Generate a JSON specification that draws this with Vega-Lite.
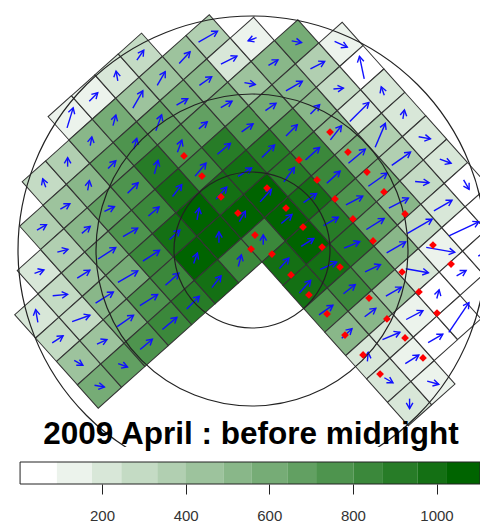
{"$schema":"https://vega.github.io/schema/vega-lite/v6.json","padding":0,"spacing":15,"bounds":"flush","background":"white","config":{"view":{"stroke":null}},
"datasets":{"cells":[
{"a":-2,"b":-8,"count":135,"dir":17,"speed":21},{"a":-1,"b":-8,"count":135,"dir":45,"speed":12},{"a":0,"b":-8,"count":210,"dir":-10,"speed":10},{"a":1,"b":-8,"count":290,"dir":35,"speed":12},
{"a":-4,"b":-7,"count":290,"dir":-20,"speed":9},{"a":-3,"b":-7,"count":365,"dir":0,"speed":9},{"a":-2,"b":-7,"count":525,"dir":10,"speed":9},{"a":-1,"b":-7,"count":600,"dir":15,"speed":11},{"a":0,"b":-7,"count":445,"dir":30,"speed":20},{"a":1,"b":-7,"count":445,"dir":30,"speed":16},{"a":2,"b":-7,"count":445,"dir":43,"speed":16},{"a":3,"b":-7,"count":365,"dir":60,"speed":22},
{"a":-5,"b":-6,"count":365,"dir":60,"speed":11},{"a":-4,"b":-6,"count":445,"dir":60,"speed":11},{"a":-3,"b":-6,"count":525,"dir":10,"speed":10},{"a":-2,"b":-6,"count":680,"dir":45,"speed":11},{"a":-1,"b":-6,"count":755,"dir":15,"speed":11},{"a":0,"b":-6,"count":680,"dir":20,"speed":17},{"a":1,"b":-6,"count":600,"dir":60,"speed":13},{"a":2,"b":-6,"count":525,"dir":55,"speed":15},{"a":3,"b":-6,"count":210,"dir":63,"speed":18},{"a":4,"b":-6,"count":135,"dir":250,"speed":9},
{"a":-6,"b":-5,"count":210,"dir":70,"speed":10},{"a":-5,"b":-5,"count":365,"dir":75,"speed":11},{"a":-4,"b":-5,"count":525,"dir":50,"speed":11},{"a":-3,"b":-5,"count":680,"dir":65,"speed":11},{"a":-2,"b":-5,"count":755,"dir":45,"speed":15},{"a":-1,"b":-5,"count":910,"dir":15,"speed":14},{"a":0,"b":-5,"count":755,"dir":20,"speed":13},{"a":1,"b":-5,"count":680,"dir":50,"speed":11},{"a":2,"b":-5,"count":600,"dir":60,"speed":13},{"a":3,"b":-5,"count":445,"dir":100,"speed":11},{"a":4,"b":-5,"count":525,"dir":60,"speed":11},{"a":5,"b":-5,"count":600,"dir":100,"speed":10},
{"a":-7,"b":-4,"count":210,"dir":-10,"speed":13},{"a":-6,"b":-4,"count":290,"dir":85,"speed":15},{"a":-5,"b":-4,"count":445,"dir":58,"speed":15},{"a":-4,"b":-4,"count":600,"dir":57,"speed":21},{"a":-3,"b":-4,"count":755,"dir":60,"speed":17},{"a":-2,"b":-4,"count":835,"dir":50,"speed":14},{"a":-1,"b":-4,"count":990,"dir":38,"speed":15},{"a":0,"b":-4,"count":835,"dir":40,"speed":17},{"a":1,"b":-4,"count":910,"dir":50,"speed":17},{"a":2,"b":-4,"count":755,"dir":55,"speed":14},{"a":3,"b":-4,"count":600,"dir":55,"speed":13},{"a":4,"b":-4,"count":525,"dir":60,"speed":19},{"a":5,"b":-4,"count":365,"dir":63,"speed":16},{"a":6,"b":-4,"count":135,"dir":115,"speed":14},
{"a":-7,"b":-3,"count":290,"dir":57,"speed":13},{"a":-6,"b":-3,"count":290,"dir":70,"speed":19},{"a":-5,"b":-3,"count":525,"dir":58,"speed":21},{"a":-4,"b":-3,"count":600,"dir":60,"speed":23},{"a":-3,"b":-3,"count":835,"dir":57,"speed":20},{"a":-2,"b":-3,"count":990,"dir":48,"speed":14},{"a":-1,"b":-3,"count":1060,"dir":10,"speed":12},{"a":0,"b":-3,"count":990,"dir":42,"speed":16},{"a":1,"b":-3,"count":990,"dir":58,"speed":16},{"a":2,"b":-3,"count":910,"dir":45,"speed":18},{"a":3,"b":-3,"count":755,"dir":45,"speed":16},{"a":4,"b":-3,"count":525,"dir":45,"speed":13},{"a":5,"b":-3,"count":290,"dir":85,"speed":10},{"a":6,"b":-3,"count":50,"dir":-12,"speed":23},
{"a":-7,"b":-2,"count":445,"dir":120,"speed":10},{"a":-6,"b":-2,"count":445,"dir":65,"speed":11},{"a":-5,"b":-2,"count":600,"dir":55,"speed":20},{"a":-4,"b":-2,"count":755,"dir":58,"speed":21},{"a":-3,"b":-2,"count":835,"dir":48,"speed":18},{"a":-2,"b":-2,"count":1060,"dir":20,"speed":11},{"a":-1,"b":-2,"count":1060,"dir":0,"speed":11},{"a":0,"b":-2,"count":1060,"dir":30,"speed":12},{"a":1,"b":-2,"count":1060,"dir":42,"speed":17},{"a":2,"b":-2,"count":910,"dir":36,"speed":18},{"a":3,"b":-2,"count":835,"dir":48,"speed":19},{"a":4,"b":-2,"count":525,"dir":38,"speed":18},{"a":5,"b":-2,"count":210,"dir":45,"speed":27},{"a":6,"b":-2,"count":210,"dir":-20,"speed":9},
{"a":-7,"b":-1,"count":600,"dir":100,"speed":10},{"a":-6,"b":-1,"count":680,"dir":110,"speed":10},{"a":-5,"b":-1,"count":755,"dir":50,"speed":16},{"a":-4,"b":-1,"count":835,"dir":50,"speed":19},{"a":-3,"b":-1,"count":910,"dir":45,"speed":18},{"a":-2,"b":-1,"count":990,"dir":38,"speed":15},{"a":-1,"b":-1,"count":835,"dir":15,"speed":12},{"a":0,"b":-1,"count":835,"dir":0,"speed":10},{"a":1,"b":-1,"count":1060,"dir":50,"speed":14},{"a":2,"b":-1,"count":990,"dir":55,"speed":16},{"a":3,"b":-1,"count":835,"dir":48,"speed":18},{"a":4,"b":-1,"count":600,"dir":50,"speed":22},{"a":5,"b":-1,"count":365,"dir":23,"speed":26},{"a":6,"b":-1,"count":210,"dir":10,"speed":9},
{"a":0,"b":0,"count":990,"dir":42,"speed":14},{"a":1,"b":0,"count":1060,"dir":58,"speed":15},{"a":2,"b":0,"count":910,"dir":60,"speed":17},{"a":3,"b":0,"count":755,"dir":62,"speed":19},{"a":4,"b":0,"count":600,"dir":55,"speed":23},{"a":5,"b":0,"count":365,"dir":55,"speed":23},{"a":6,"b":0,"count":210,"dir":100,"speed":12},
{"a":0,"b":1,"count":990,"dir":42,"speed":17},{"a":1,"b":1,"count":990,"dir":66,"speed":18},{"a":2,"b":1,"count":910,"dir":67,"speed":17},{"a":3,"b":1,"count":680,"dir":58,"speed":21},{"a":4,"b":1,"count":525,"dir":63,"speed":22},{"a":5,"b":1,"count":290,"dir":95,"speed":14},{"a":6,"b":1,"count":210,"dir":110,"speed":12},
{"a":0,"b":2,"count":755,"dir":55,"speed":17},{"a":1,"b":2,"count":835,"dir":52,"speed":15},{"a":2,"b":2,"count":755,"dir":65,"speed":17},{"a":3,"b":2,"count":525,"dir":60,"speed":22},{"a":4,"b":2,"count":290,"dir":60,"speed":29},{"a":5,"b":2,"count":210,"dir":60,"speed":21},{"a":6,"b":2,"count":50,"dir":150,"speed":11},
{"a":0,"b":3,"count":525,"dir":47,"speed":14},{"a":1,"b":3,"count":525,"dir":53,"speed":14},{"a":2,"b":3,"count":445,"dir":60,"speed":18},{"a":3,"b":3,"count":210,"dir":100,"speed":23},{"a":4,"b":3,"count":135,"dir":100,"speed":29},{"a":5,"b":3,"count":50,"dir":65,"speed":33},{"a":6,"b":3,"count":50,"dir":60,"speed":15},
{"a":0,"b":4,"count":210,"dir":5,"speed":9},{"a":1,"b":4,"count":210,"dir":67,"speed":19},{"a":2,"b":4,"count":135,"dir":62,"speed":19},{"a":3,"b":4,"count":50,"dir":15,"speed":9},{"a":4,"b":4,"count":50,"dir":60,"speed":11},{"a":5,"b":4,"count":50,"dir":60,"speed":15},
{"a":0,"b":5,"count":210,"dir":120,"speed":10},{"a":1,"b":5,"count":135,"dir":58,"speed":16},{"a":2,"b":5,"count":50,"dir":60,"speed":17},{"a":3,"b":5,"count":50,"dir":34,"speed":36},
{"a":0,"b":6,"count":210,"dir":180,"speed":10},{"a":1,"b":6,"count":135,"dir":105,"speed":12}
],
"sites":[{"east":-43.6,"north":60.3},{"east":-32.1,"north":47.4},{"east":-19.9,"north":34},{"east":50,"north":75.6},{"east":61.5,"north":62.8},{"east":73.7,"north":50},{"east":84.6,"north":37.2},{"east":30.1,"north":57.7},{"east":41.7,"north":44.9},{"east":53.2,"north":32.7},{"east":9.6,"north":39.7},{"east":21.8,"north":26.9},{"east":32.7,"north":14.7},{"east":1.9,"north":9.6},{"east":-0.6,"north":0.6},{"east":12.8,"north":-2.6},{"east":25,"north":-16},{"east":36.5,"north":-28.8},{"east":48.1,"north":-41},{"east":59.6,"north":-54.5},{"east":71.2,"north":-67.3},{"east":82.1,"north":-79.5},{"east":44.9,"north":1.9},{"east":56.4,"north":-10.9},{"east":64.7,"north":19.9},{"east":77.6,"north":5.8},{"east":96.2,"north":-14.1},{"east":75,"north":-30.8},{"east":86.5,"north":-44.2},{"east":98.1,"north":-56.4},{"east":109.6,"north":-69.2},{"east":107,"north":-26.9},{"east":118.6,"north":-40.4},{"east":98.1,"north":23.1},{"east":116,"north":3.2},{"east":127.6,"north":-9},{"east":-9,"north":23.7}],
"bins":[{"from":4,"to":92,"count":50},{"from":92,"to":176,"count":135},{"from":176,"to":246,"count":210},{"from":246,"to":332,"count":290},{"from":332,"to":399,"count":365},{"from":399,"to":490,"count":445},{"from":490,"to":557,"count":525},{"from":557,"to":643,"count":600},{"from":643,"to":712,"count":680},{"from":712,"to":801,"count":755},{"from":801,"to":870,"count":835},{"from":870,"to":954,"count":910},{"from":954,"to":1025,"count":990},{"from":1025,"to":1104,"count":1060}]},
"vconcat":[
{"width":480,"height":447,"data":{"name":"cells"},
"transform":[{"calculate":"6.41+15*(datum.a+0.5)+13.4*(datum.b+0.5)","as":"east"},{"calculate":"-7.69+13.4*(datum.a+0.5)-15*(datum.b+0.5)","as":"north"},{"calculate":"datum.east-0.32*datum.speed*sin(datum.dir*PI/180)","as":"tailE"},{"calculate":"datum.north-0.32*datum.speed*cos(datum.dir*PI/180)","as":"tailN"},{"calculate":"datum.east+0.32*datum.speed*sin(datum.dir*PI/180)","as":"tipE"},{"calculate":"datum.north+0.32*datum.speed*cos(datum.dir*PI/180)","as":"tipN"}],
"encoding":{"x":{"field":"east","type":"quantitative","axis":null,"scale":{"domain":[-161.54,146.15],"nice":false,"zero":false}},"y":{"field":"north","type":"quantitative","axis":null,"scale":{"domain":[-126.28,160.26],"nice":false,"zero":false}}},
"layer":[
{"mark":{"type":"square","size":974,"angle":48.2,"stroke":"#333333","strokeWidth":1,"opacity":1,"clip":true},"encoding":{"fill":{"field":"count","type":"quantitative","legend":null,"scale":{"type":"threshold","domain":[92,176,246,332,399,490,557,643,712,801,870,954,1025],"range":["#ffffff","#ecf3ec","#d8e7d8","#c4dbc4","#b1cfb1","#9dc39d","#89b789","#76ac76","#62a062","#4e944e","#3b883b","#277c27","#147014","#006400"]}}}},
{"mark":{"type":"rule","color":"#1010ff","strokeWidth":1.4,"clip":true},"encoding":{"x":{"field":"tailE","type":"quantitative","axis":null,"scale":{"domain":[-161.54,146.15],"nice":false,"zero":false}},"y":{"field":"tailN","type":"quantitative","axis":null,"scale":{"domain":[-126.28,160.26],"nice":false,"zero":false}},"x2":{"field":"tipE"},"y2":{"field":"tipN"}}},
{"mark":{"type":"point","shape":"M-0.55,0.95L0,0L0.55,0.95","filled":false,"size":144,"stroke":"#1010ff","strokeWidth":1.4,"opacity":1,"clip":true},"encoding":{"x":{"field":"tipE","type":"quantitative","axis":null,"scale":{"domain":[-161.54,146.15],"nice":false,"zero":false}},"y":{"field":"tipN","type":"quantitative","axis":null,"scale":{"domain":[-126.28,160.26],"nice":false,"zero":false}},"angle":{"field":"dir","type":"quantitative","scale":null}}},
{"data":{"values":[{"east":0,"north":0,"range_km":50},{"east":0,"north":0,"range_km":100},{"east":0,"north":0,"range_km":150}]},"mark":{"type":"point","shape":"circle","filled":false,"stroke":"#222222","strokeWidth":1.2,"opacity":1,"clip":true},"encoding":{"size":{"field":"range_km","type":"quantitative","legend":null,"scale":{"type":"pow","exponent":2,"domain":[0,150],"range":[0,219024]}}}},
{"data":{"name":"sites"},"mark":{"type":"point","shape":"diamond","filled":true,"size":60,"color":"#ff0000","opacity":1,"clip":true}},
{"data":{"values":[{"east":-0.64,"north":-124.4,"label":"2009 April : before midnight"}]},"mark":{"type":"text","font":"Liberation Sans","fontWeight":"bold","fontSize":31.5,"color":"#000000","align":"center","baseline":"alphabetic"},"encoding":{"text":{"field":"label"}}}
]},
{"width":480,"height":22,"data":{"name":"bins"},
"encoding":{"x":{"field":"from","type":"quantitative","scale":{"domain":[-44,1104],"nice":false,"zero":false},"axis":{"values":[200,400,600,800,1000],"format":"d","domain":false,"grid":false,"ticks":true,"tickSize":10,"tickColor":"#222222","title":null,"labelFontSize":15,"labelFont":"Liberation Sans","labelColor":"#333333","labelPadding":14}},"x2":{"field":"to"}},
"layer":[
{"mark":{"type":"rect"},"encoding":{"fill":{"field":"count","type":"quantitative","legend":null,"scale":{"type":"threshold","domain":[92,176,246,332,399,490,557,643,712,801,870,954,1025],"range":["#ffffff","#ecf3ec","#d8e7d8","#c4dbc4","#b1cfb1","#9dc39d","#89b789","#76ac76","#62a062","#4e944e","#3b883b","#277c27","#147014","#006400"]}}}},
{"data":{"values":[{"from":4,"to":1104}]},"mark":{"type":"rect","fillOpacity":0,"stroke":"#222222","strokeWidth":1}}
]}
]}
